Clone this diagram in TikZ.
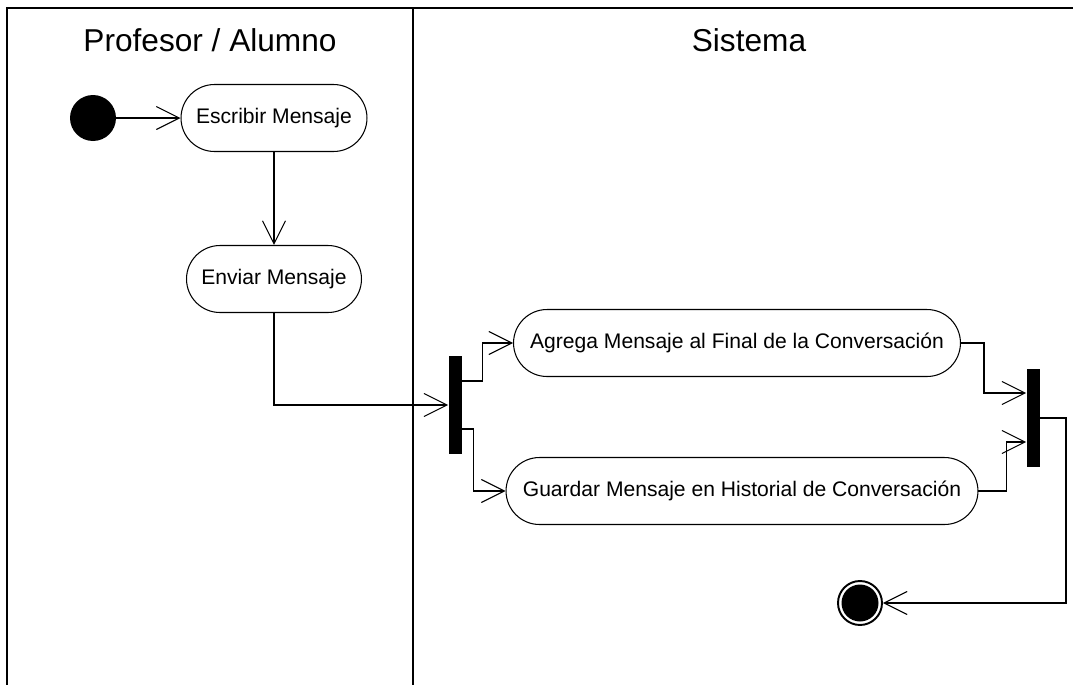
\documentclass[tikz,border=0pt]{standalone}
\usepackage{fontspec}
\setmainfont{Liberation Sans}
\usepackage{tikz}
\usetikzlibrary{arrows.meta,positioning,calc}

\begin{document}
\begin{tikzpicture}[
    x=0.02cm, y=-0.02cm,
    lane/.style={line width=1.1pt, line cap=rect},
    lanetitle/.style={font=\fontsize{18}{21}\selectfont},
    activity/.style={rectangle, draw, line width=0.6pt, rounded corners=0.67cm, minimum height=1.34cm, minimum width=#1, inner sep=0pt, font=\fontsize{12}{14}\selectfont},
    activity/.default=3.7cm,
    initial/.style={circle, fill=black, minimum size=0.92cm, inner sep=0pt},
    final/.style={circle, draw, line width=1.1pt, minimum size=0.88cm, inner sep=0pt,
        path picture={\fill (path picture bounding box.center) circle (0.37cm);}},
    bar/.style={rectangle, fill=black, minimum width=0.26cm, minimum height=1.95cm, inner sep=0pt},
    flow/.style={-{Straight Barb[length=0.46cm, width=0.46cm, line width=0.6pt]}, line width=0.6pt}
]
    \useasboundingbox (0,0) rectangle (1073,684);

    % Swimlanes
    \draw[lane] (1073,8) -- (7,8) -- (7,684);
    \draw[lane] (413,8) -- (413,684);
    \node[lanetitle] (profesor) at (210,40) {Profesor / Alumno};
    \node[lanetitle] (sistema)  at (749,40) {Sistema};

    % Profesor / Alumno lane
    \node[initial]              (start)    at (93,118)  {};
    \node[activity=3.72cm]      (escribir) at (274,118) {Escribir Mensaje};
    \node[activity=3.5cm]       (enviar)   at (274,279) {Enviar Mensaje};

    % Sistema lane
    \node[bar]                  (fork)     at (455,405) {};
    \node[activity=8.94cm]      (agrega)   at (737,343) {Agrega Mensaje al Final de la Conversación};
    \node[activity=9.44cm]      (guardar)  at (742,491) {Guardar Mensaje en Historial de Conversación};
    \node[bar]                  (join)     at (1033,418) {};
    \node[final]                (end)      at (860,603) {};
    \coordinate (turn) at (1066,603);

    % Flows
    \draw[flow] (start) -- (escribir);
    \draw[flow] (escribir) -- (enviar);
    \draw[flow] (enviar.south) |- (fork.west);
    \draw[flow] (fork.east |- 0,381) -- ++(21,0) |- (agrega.west);
    \draw[flow] (fork.east |- 0,429) -- ++(12,0) |- (guardar.west);
    \draw[flow] (agrega.east) -- ++(23,0) |- (join.west |- 0,393);
    \draw[flow] (guardar.east) -- ++(28,0) |- (join.west |- 0,442);
    \draw[flow] (join.east) -| (turn) -- (end);

\end{tikzpicture}
\end{document}
